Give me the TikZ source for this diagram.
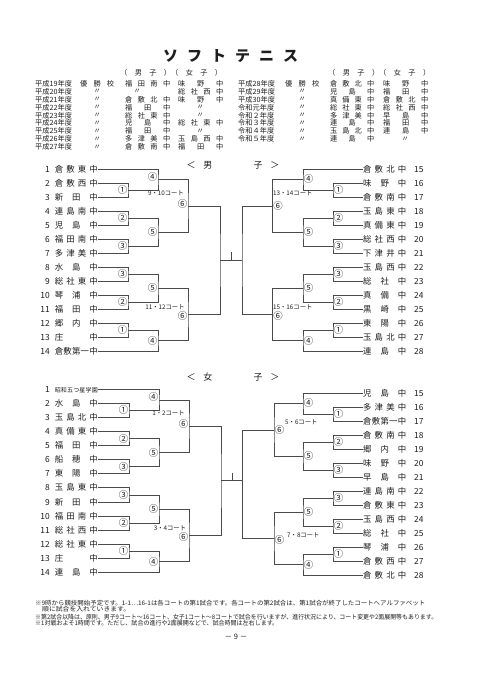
\documentclass[tikz,border=0pt]{standalone}
\usepackage{fontspec}
\setmainfont{Noto Sans CJK JP}
\usetikzlibrary{calc}
\definecolor{ink}{HTML}{1E1E1E}
\definecolor{brc}{HTML}{4A4A4A}
\def\spr#1{#1\sprx}
\def\sprx#1{\ifx\relax#1\else\hfill#1\expandafter\sprx\fi}
\def\dittomark{〃}
\newcommand\tcell[3]{\edef\tmpc{#3}\ifx\tmpc\dittomark\makebox[#2][l]{\hspace{#1}〃}\else\makebox[#2][s]{\expandafter\spr\tmpc\relax}\fi}
\tikzset{
 team/.style={inner sep=0pt, font=\fontsize{8.4}{9}\selectfont, text=ink},
 lab/.style={inner sep=0.6pt, font=\fontsize{9.4}{10}\selectfont, text=ink},
 court/.style={inner sep=0pt, font=\fontsize{6.3}{7}\selectfont, text=ink},
 brk/.style={draw=brc, line width=0.6pt},
 tc/.style={inner sep=0pt, anchor=west, font=\fontsize{7.2}{8}\selectfont, text=ink},
 hdr/.style={inner sep=0pt, font=\fontsize{9}{10}\selectfont, text=ink},
 foot/.style={inner sep=0pt, anchor=west, font=\fontsize{6.2}{7}\selectfont, text=ink},
}
\newcommand\topblk[4]{%
 \pgfmathsetmacro\mA{#3+1.5*\dY}\pgfmathsetmacro\mB{#3+3.5*\dY}\pgfmathsetmacro\mC{#3+5.5*\dY}%
 \pgfmathsetmacro\oD{#3+0.75*\dY}\pgfmathsetmacro\oE{#3+4.5*\dY}\pgfmathsetmacro\oF{#3+2.625*\dY}%
 \edef\tmA{#1\the\numexpr#2\relax}\edef\tmB{#1\the\numexpr#2+1\relax}\edef\tmC{#1\the\numexpr#2+2\relax}%
 \edef\tmD{#1\the\numexpr#2+3\relax}\edef\tmE{#1\the\numexpr#2+4\relax}\edef\tmF{#1\the\numexpr#2+5\relax}%
 \edef\tmG{#1\the\numexpr#2+6\relax}%
 \coordinate (#4c1) at (\vA,\mA);
 \coordinate (#4c2) at (\vA,\mB);
 \coordinate (#4c3) at (\vA,\mC);
 \coordinate (#4c4) at (\vB,\oD);
 \coordinate (#4c5) at (\vB,\oE);
 \coordinate (#4c6) at (\vC,\oF);
 \draw[brk] (\tmB.\an) -| (#4c1) |- (\tmC.\an);
 \draw[brk] (\tmA.\an) -| (#4c4) |- (#4c1);
 \draw[brk] (\tmD.\an) -| (#4c2) |- (\tmE.\an);
 \draw[brk] (\tmF.\an) -| (#4c3) |- (\tmG.\an);
 \draw[brk] (#4c2) -| (#4c5) |- (#4c3);
 \draw[brk] (#4c4) -| (#4c6) |- (#4c5);
 \node[lab,anchor=\an] (#4l1) at (#4c1) {①};
 \node[lab,anchor=\an] (#4l2) at (#4c2) {②};
 \node[lab,anchor=\an] (#4l3) at (#4c3) {③};
 \node[lab,anchor=\an,yshift=\ls] (#4l4) at (#4c4) {④};
 \node[lab,anchor=\an] (#4l5) at (#4c5) {⑤};
 \node[lab,anchor=\an,yshift=\ls] (#4l6) at (#4c6) {⑥};
}
\newcommand\botblk[4]{%
 \pgfmathsetmacro\mC{#3+0.5*\dY}\pgfmathsetmacro\mB{#3+2.5*\dY}\pgfmathsetmacro\oE{#3+1.5*\dY}%
 \pgfmathsetmacro\mA{#3+4.5*\dY}\pgfmathsetmacro\oD{#3+5.25*\dY}\pgfmathsetmacro\oF{#3+3.375*\dY}%
 \edef\tmA{#1\the\numexpr#2\relax}\edef\tmB{#1\the\numexpr#2+1\relax}\edef\tmC{#1\the\numexpr#2+2\relax}%
 \edef\tmD{#1\the\numexpr#2+3\relax}\edef\tmE{#1\the\numexpr#2+4\relax}\edef\tmF{#1\the\numexpr#2+5\relax}%
 \edef\tmG{#1\the\numexpr#2+6\relax}%
 \coordinate (#4c1) at (\vA,\mA);
 \coordinate (#4c2) at (\vA,\mB);
 \coordinate (#4c3) at (\vA,\mC);
 \coordinate (#4c4) at (\vB,\oD);
 \coordinate (#4c5) at (\vB,\oE);
 \coordinate (#4c6) at (\vC,\oF);
 \draw[brk] (\tmA.\an) -| (#4c3) |- (\tmB.\an);
 \draw[brk] (\tmC.\an) -| (#4c2) |- (\tmD.\an);
 \draw[brk] (#4c3) -| (#4c5) |- (#4c2);
 \draw[brk] (\tmE.\an) -| (#4c1) |- (\tmF.\an);
 \draw[brk] (#4c1) -| (#4c4) |- (\tmG.\an);
 \draw[brk] (#4c5) -| (#4c6) |- (#4c4);
 \node[lab,anchor=\an] (#4l1) at (#4c1) {①};
 \node[lab,anchor=\an] (#4l2) at (#4c2) {②};
 \node[lab,anchor=\an] (#4l3) at (#4c3) {③};
 \node[lab,anchor=\an] (#4l4) at (#4c4) {④};
 \node[lab,anchor=\an] (#4l5) at (#4c5) {⑤};
 \node[lab,anchor=\an,yshift=-1.5pt] (#4l6) at (#4c6) {⑥};
}
\begin{document}
\begin{tikzpicture}[x=1pt,y=-1pt]
\fill[white] (0,0) rectangle (480,679);
\useasboundingbox (0,0) rectangle (480,679);

% title
\node[inner sep=0pt, font=\fontsize{15}{16}\selectfont\bfseries, text=ink] (title) at (230.5,56) {\makebox[135pt][s]{\spr ソフトテニス\relax}};

% past winners
\node[tc] (thL) at (120,73) {\makebox[102pt][s]{（\hfill 男\hfill 子\hfill ）（\hfill 女\hfill 子\hfill ）}};
\node[tc] (thR) at (328,73) {\makebox[102pt][s]{（\hfill 男\hfill 子\hfill ）（\hfill 女\hfill 子\hfill ）}};
\foreach \a/\b/\c/\d [count=\k from 0] in {平成19年度/優勝校/福田南中/味野中,平成20年度/〃/〃/総社西中,平成21年度/〃/倉敷北中/味野中,平成22年度/〃/福田中/〃,平成23年度/〃/総社東中/〃,平成24年度/〃/児島中/総社東中,平成25年度/〃/福田中/〃,平成26年度/〃/多津美中/玉島西中,平成27年度/〃/倉敷南中/福田中}{
 \pgfmathsetmacro\yy{83.7+7.9*\k}
 \node[tc] (tlA\k) at (35,\yy) {\a};
 \node[tc] (tlB\k) at (80,\yy) {\tcell{13.4pt}{34pt}{\b}};
 \node[tc] (tlC\k) at (125,\yy) {\tcell{8.4pt}{45pt}{\c}};
 \node[tc] (tlD\k) at (178,\yy) {\tcell{18.4pt}{45pt}{\d}};
}
\foreach \a/\b/\c/\d [count=\k from 0] in {平成28年度/優勝校/倉敷北中/味野中,平成29年度/〃/児島中/福田中,平成30年度/〃/真備東中/倉敷北中,令和元年度/〃/総社東中/総社西中,令和２年度/〃/多津美中/早島中,令和３年度/〃/連島中/福田中,令和４年度/〃/玉島北中/連島中,令和５年度/〃/連島中/〃}{
 \pgfmathsetmacro\yy{83.7+7.9*\k}
 \node[tc] (trA\k) at (238,\yy) {\a};
 \node[tc] (trB\k) at (285,\yy) {\tcell{13.4pt}{34pt}{\b}};
 \node[tc] (trC\k) at (330,\yy) {\tcell{8.4pt}{44pt}{\c}};
 \node[tc] (trD\k) at (383,\yy) {\tcell{18.4pt}{45pt}{\d}};
}

% section headers
\node[hdr] (hb) at (233,165) {＜\hspace{8pt}男\hspace{41pt}子\hspace{8pt}＞};
\node[hdr] (hg) at (233,377.5) {＜\hspace{8pt}女\hspace{41pt}子\hspace{8pt}＞};

% boys teams
\foreach \nm [count=\i] in {倉敷東中,倉敷西中,新田中,連島南中,児島中,福田南中,多津美中,水島中,総社東中,琴浦中,福田中,郷内中,庄中,倉敷第一中}{
 \pgfmathsetmacro\yy{169.3+(\i-1)*13.98}
 \node[team,anchor=east] (bL\i) at (98,\yy) {\makebox[10pt][r]{\i}\hspace{5pt}\makebox[43pt][s]{\expandafter\spr\nm\relax}};
}
\foreach \nm [count=\i from 15] in {倉敷北中,味野中,倉敷南中,玉島東中,真備東中,総社西中,下津井中,玉島西中,総社中,真備中,黒崎中,東陽中,玉島北中,連島中}{
 \pgfmathsetmacro\yy{169.3+(\i-15)*13.98}
 \node[team,anchor=west] (bR\i) at (363,\yy) {\makebox[43pt][s]{\expandafter\spr\nm\relax}\hspace{8pt}\i};
}
% girls teams
\node[team,anchor=east] (gL1) at (98,389.3) {\makebox[10pt][r]{1}\hspace{5pt}\makebox[43pt][s]{\fontsize{6}{7}\selectfont\spr 昭和五つ星学園\relax}};
\foreach \nm [count=\i from 2] in {水島中,玉島北中,真備東中,福田中,船穂中,東陽中,玉島東中,新田中,福田南中,総社西中,総社東中,庄中,連島中}{
 \pgfmathsetmacro\yy{389.3+(\i-1)*14.07}
 \node[team,anchor=east] (gL\i) at (98,\yy) {\makebox[10pt][r]{\i}\hspace{5pt}\makebox[43pt][s]{\expandafter\spr\nm\relax}};
}
\foreach \nm [count=\i from 15] in {児島中,多津美中,倉敷第一中,倉敷南中,郷内中,味野中,早島中,連島南中,倉敷東中,玉島西中,総社中,琴浦中,倉敷西中,倉敷北中}{
 \pgfmathsetmacro\yy{393.3+(\i-15)*13.98}
 \node[team,anchor=west] (gR\i) at (363,\yy) {\makebox[43pt][s]{\expandafter\spr\nm\relax}\hspace{8pt}\i};
}

% brackets
\def\vA{128}\def\vB{158}\def\vC{188}\def\an{east}\def\ls{2.5pt}\def\dY{13.98}
\topblk{bL}{1}{169.3}{bLt}
\botblk{bL}{8}{267.16}{bLb}
\def\vA{333}\def\vB{303}\def\vC{272.5}\def\an{west}\def\ls{0.5pt}
\topblk{bR}{15}{169.3}{bRt}
\botblk{bR}{22}{267.16}{bRb}
\def\vA{129}\def\vB{159}\def\vC{189}\def\an{east}\def\ls{2.5pt}\def\dY{14.07}
\topblk{gL}{1}{389.3}{gLt}
\botblk{gL}{8}{487.79}{gLb}
\def\vA{333}\def\vB{303}\def\vC{274}\def\an{west}\def\ls{0.5pt}\def\dY{13.98}
\topblk{gR}{15}{393.3}{gRt}
\botblk{gR}{22}{491.16}{gRb}

% finals
\coordinate (bFL) at ($(bLtc6)!0.5!(bLbc6)+(32,0)$);
\coordinate (bFR) at ($(bFL)+(22,0)$);
\coordinate (bTk) at ($(bFL)+(11,-8)$);
\draw[brk] (bLtc6) -| (bFL) |- (bLbc6);
\draw[brk] (bRtc6) -| (bFR) |- (bRbc6);
\draw[brk] (bFL) -- (bFR);
\draw[brk] (bTk) -- ($(bFL)+(11,0)$);

\coordinate (gFL) at ($(gLtc6)!0.5!(gLbc6)+(32,0)$);
\coordinate (gFR) at ($(gFL)+(21.5,0)$);
\coordinate (gTk) at ($(gFL)+(11,-8)$);
\draw[brk] (gLtc6) -| (gFL) |- (gLbc6);
\draw[brk] (gRtc6) -| (gFR) |- (gRbc6);
\draw[brk] (gFL) -- (gFR);
\draw[brk] (gTk) -- ($(gFL)+(11,0)$);

% courts
\node[court] (cb1) at (166,193) {9・10コート};
\node[court] (cb2) at (165,307) {11・12コート};
\node[court,anchor=west] (cb3) at (273,193) {13・14コート};
\node[court,anchor=west] (cb4) at (273,307) {15・16コート};
\node[court] (cg1) at (168.5,413) {1・2コート};
\node[court] (cg2) at (170,528) {3・4コート};
\node[court,anchor=west] (cg3) at (285,422) {5・6コート};
\node[court,anchor=west] (cg4) at (287,535) {7・8コート};

% footer
\node[foot] (f1) at (35,603) {\resizebox{390pt}{\height}{※9時から競技開始予定です。1-1…16-1は各コートの第1試合です。各コートの第2試合は、第1試合が終了したコートへアルファベット}};
\node[foot] (f2) at (42,609.5) {\resizebox{88pt}{\height}{順に試合を入れていきます。}};
\node[foot] (f3) at (35,617) {\resizebox{402pt}{\height}{※第2試合以降は、原則、男子9コート～16コート、女子1コート～8コートで試合を行いますが、進行状況により、コート変更や2面展開等もあります。}};
\node[foot] (f4) at (35,623.5) {\resizebox{243pt}{\height}{※1対戦およそ1時間です。ただし、試合の進行や2面展開などで、試合時間は左右します。}};
\node[inner sep=0pt, font=\fontsize{7.5}{8}\selectfont, text=ink] (pg) at (236,637) {－ 9 －};
\end{tikzpicture}
\end{document}
